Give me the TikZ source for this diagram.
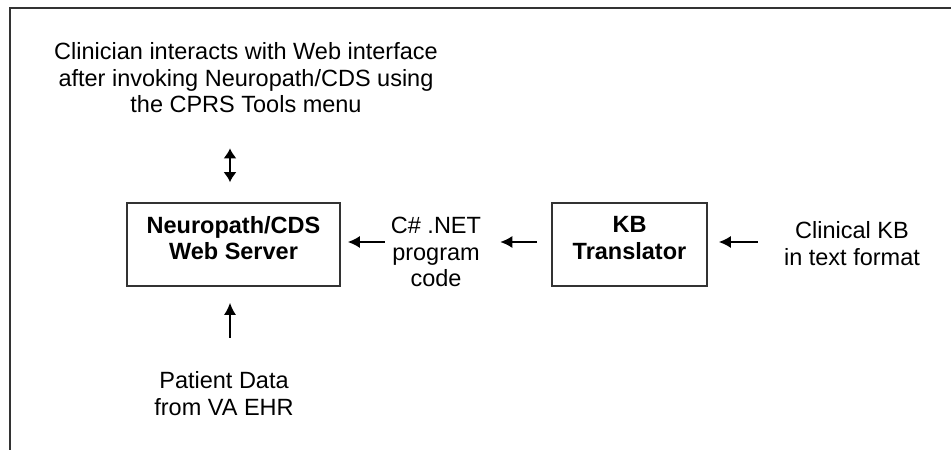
\documentclass[tikz,border=0pt]{standalone}
\usepackage{fontspec}
\setmainfont{Liberation Sans}
\usetikzlibrary{arrows.meta}

\tikzset{
  boite/.style={draw=black!80, line width=1.6pt, minimum height=83pt},
  texte/.style={align=center, inner sep=0pt, font=\fontsize{23.5}{26.5}\selectfont},
  gras/.style={texte, font=\fontsize{23.5}{26.5}\selectfont\bfseries},
  fleche/.style={line width=1.7pt, -{Latex[length=12pt,width=12pt]}},
}

\begin{document}
\begin{tikzpicture}[x=1pt, y=1pt]

% Cadre
\useasboundingbox (0,0) rectangle (951,450);
\draw[line width=2pt, black!80] (10,0) -- (10,442) -- (951,442);

% Boîtes
\node[boite, minimum width=213pt,
  label={[gras, yshift=6.5pt]center:Neuropath/CDS\\Web Server}] (serveur) at (233.5,205.5) {};
\node[boite, minimum width=155pt,
  label={[gras, yshift=6.5pt]center:KB\\Translator}] (kb) at (629.5,205.5) {};

% Textes
\node[texte] (clinicien) at (246,372) {Clinician interacts with Web interface\\after invoking Neuropath/CDS using\\the CPRS Tools menu};
\node[texte] (code) at (436,198) {C\# .NET\\program\\code};
\node[texte] (base) at (852,206.5) {Clinical KB\\in text format};
\node[texte] (patient) at (224,56.5) {Patient Data\\from VA EHR};

% Flèches
\draw[fleche] ([shift={(-6,10)}]code.west) -- ([shift={(7,2.5)}]serveur.east);
\draw[fleche] ([shift={(-14,2.5)}]kb.west) -- ([shift={(19,10)}]code.east);
\draw[fleche] ([shift={(-26,1.5)}]base.west) -- ([shift={(11,2.5)}]kb.east);
\draw[fleche] ([shift={(6,33.5)}]patient.north) -- ([shift={(-3.5,-16)}]serveur.south);
\draw[fleche, {Latex[length=10pt,width=13pt]}-{Latex[length=10pt,width=13pt]}]
  ([shift={(-3.5,20)}]serveur.north) -- ([shift={(-16,-35)}]clinicien.south);

\end{tikzpicture}
\end{document}
